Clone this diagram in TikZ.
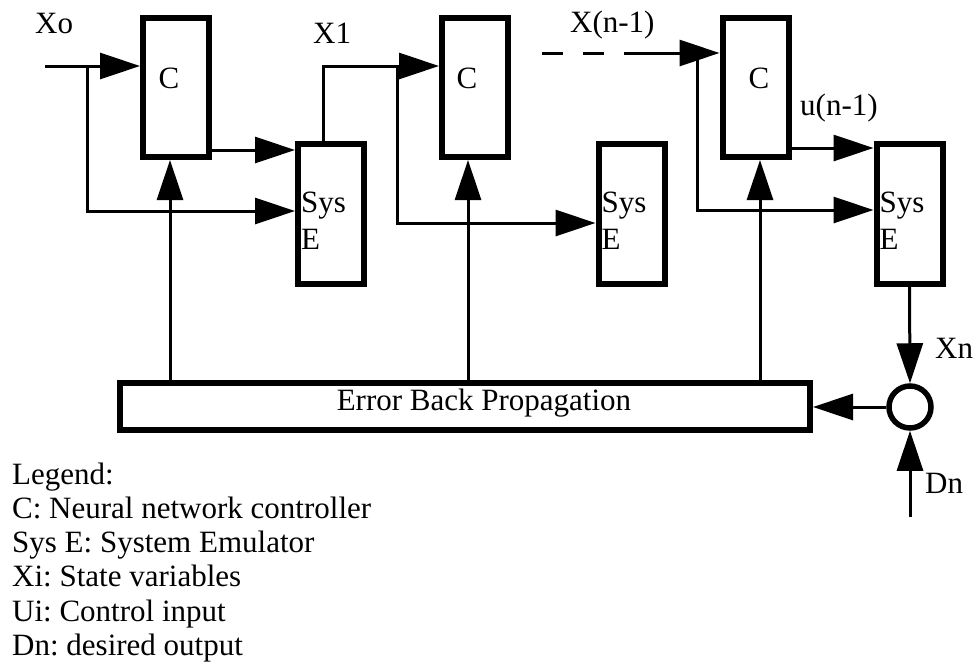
\documentclass[tikz,border=0pt]{standalone}
\usepackage{fontspec}
\setmainfont{Liberation Serif}
\usetikzlibrary{arrows.meta}
\frenchspacing
\begin{document}
\begin{tikzpicture}[x=1pt,y=-1pt,
  txt/.style={font=\fontsize{31}{34}\selectfont, inner sep=0pt},
  blk/.style={draw, line width=6pt, inner sep=0pt},
  ctrl/.style={blk, minimum width=66pt, minimum height=139pt},
  emul/.style={blk, minimum width=66pt, minimum height=140pt},
  wire/.style={line width=3pt},
  arr/.style={wire, -{Triangle[length=40pt,width=26pt]}}]
\useasboundingbox (0,0) rectangle (975,662);

% controllers and system emulators
\node[ctrl] (c1) at (176,87.5) {};
\node[ctrl] (c2) at (475,87.5) {};
\node[ctrl] (c3) at (755.5,87.5) {};
\node[emul] (s1) at (331,214) {};
\node[emul] (s2) at (631.5,214) {};
\node[emul] (s3) at (909.5,214) {};
\node[blk, minimum width=690pt, minimum height=47pt] (err) at (465,406.5) {};
\node[draw, circle, line width=5.5pt, minimum size=42pt, inner sep=0pt] (sum) at (910,407) {};

% box texts
\node[txt, anchor=base] (c1t) at (169,88) {C};
\node[txt, anchor=base] (c2t) at (467,88) {C};
\node[txt, anchor=base] (c3t) at (759,88) {C};
\foreach \s in {s1,s2,s3}{
  \node[txt, anchor=base west] (\s a) at ([xshift=6pt,yshift=2pt]\s.west) {Sys};
  \node[txt, anchor=base west] (\s b) at ([xshift=6pt,yshift=-35pt]\s.west) {E};
}
\node[txt, anchor=base] (errt) at (484,410) {Error Back Propagation};

% signal labels
\node[txt, anchor=base west] (lx0) at (35,33) {Xo};
\node[txt, anchor=base west] (lx1) at (313,43) {X1};
\node[txt, anchor=base west] (lxn1) at (570,32) {X(n-1)};
\node[txt, anchor=base west] (lun1) at (800,115) {u(n-1)};
\node[txt, anchor=base west] (lxn) at (935,358) {Xn};
\node[txt, anchor=base west] (ldn) at (925,493) {Dn};

% level and junction points
\coordinate (in0) at (45,66);
\coordinate (j1) at (87,66);
\coordinate (j2) at (397,66);
\coordinate (d0) at (542,53);
\coordinate (j3) at (697,53);
\coordinate (h1) at (0,211);
\coordinate (h2) at (0,223);
\coordinate (h3) at (0,210);
\coordinate (o1) at (0,150);
\coordinate (o3) at (0,148);
\coordinate (dn) at (910,517);
\path ([xshift=-6pt]c1.south) coordinate (f1)
      ([xshift=-7pt]c2.south) coordinate (f2)
      ([xshift=4.5pt]c3.south) coordinate (f3)
      ([xshift=-8pt]s1.north) coordinate (x1);

% forward signals
\draw[arr] (in0) -- (in0 -| c1.west);
\draw[arr] (j1) |- (s1.west |- h1);
\draw[arr] (c1.east |- o1) -- (s1.west |- o1);
\draw[arr] (x1) |- (c2.west |- j2);
\draw[arr] (j2) |- (s2.west |- h2);
\draw[arr, dash pattern=on 21pt off 20pt on 21pt off 20pt on 300pt off 1pt] (d0) -- (c3.west |- d0);
\draw[arr] (j3) |- (s3.west |- h3);
\draw[arr] (c3.east |- o3) -- (s3.west |- o3);

% error feedback
\draw[arr] (s3.south) -- (sum.north);
\draw[arr] (dn) -- (sum.south);
\draw[arr] (sum.west) -- (sum.west -| err.east);
\foreach \f in {f1,f2,f3}
  \draw[arr] (\f |- err.north) -- (\f);

% legend
\foreach \t [count=\i] in {Legend:, C: Neural network controller, Sys E: System Emulator, Xi: State variables, Ui: Control input, Dn: desired output}
  \node[txt, anchor=base west] (leg\i) at (12,{484+34.3*(\i-1)}) {\t};
\end{tikzpicture}
\end{document}
